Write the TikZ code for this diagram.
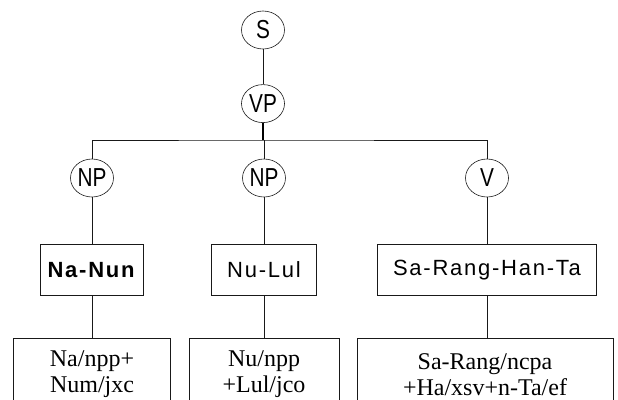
\documentclass[tikz,border=0pt]{standalone}
\usepackage{fontspec}
\usepackage{graphicx}
\setmainfont{Liberation Serif}
\setsansfont{Liberation Sans}
\newfontfamily\wordfont[LetterSpace=8]{Liberation Sans}
\usepackage{tikz}
\usetikzlibrary{
  positioning,
  shapes.geometric
}
\newcommand{\narrowtext}[1]{\scalebox{0.8}[1]{#1}}
\tikzset{
  cat/.style={
    ellipse,
    draw=black!90,
    line width=0.6pt,
    minimum width=43pt,
    minimum height=38pt,
    inner sep=0pt,
    font=\sffamily\fontsize{26}{27}\selectfont
  },
  wordbox/.style={
    rectangle,
    draw=black!90,
    line width=0.6pt,
    minimum height=51pt,
    inner sep=0pt,
    font=\wordfont\fontsize{22}{24}\selectfont
  },
  morph/.style={
    rectangle,
    draw=black!90,
    line width=0.6pt,
    minimum height=72pt,
    align=center,
    inner sep=0pt,
    font=\rmfamily\fontsize{24}{26}\selectfont
  },
  link/.style={
    line width=0.6pt,
    draw=black!90
  }
}

\begin{document}
\begin{tikzpicture}[x=1pt, y=-1pt]
  \path[use as bounding box] (0,0) rectangle (618,399);
  \clip (0,0) rectangle (618,399);
  % tree top
  \node[cat] (s) at (263,30) {\narrowtext{S}};
  \node[cat, below=35pt of s] (vp) {\narrowtext{VP}};
  \coordinate (bar) at (263,140);
  % categories
  \node[cat] (np1) at (92,178) {\narrowtext{NP}};
  \node[cat] (np2) at (264,178) {\narrowtext{NP}};
  \node[cat] (v) at (487,178) {\narrowtext{V}};
  % words
  \node[wordbox, minimum width=103pt, below=47pt of np1] (w1) {\textbf{Na-Nun}};
  \node[wordbox, minimum width=105pt, below=47pt of np2] (w2) {Nu-Lul};
  \node[wordbox, minimum width=219pt, below=47pt of v] (w3) {Sa-Rang-Han-Ta};
  % morphemes
  \node[morph, minimum width=157pt, below=42pt of w1] (m1) {Na/npp+\\Num/jxc};
  \node[morph, minimum width=150pt, below=42pt of w2] (m2) {Nu/npp\\+Lul/jco};
  \node[morph, minimum width=256pt, below=42pt of w3, xshift=-2pt] (m3) {Sa-Rang/ncpa\\+Ha/xsv+n-Ta/ef};
  \draw[link] (s) -- (vp);
  \draw[link, line width=1.1pt, draw=black] (vp) -- (bar);
  \draw[link] (np1) |- (bar) -| (v);
  \draw[link] (np2) -- (np2 |- bar);
  \draw[link] (np1) -- (w1);
  \draw[link] (np2) -- (w2);
  \draw[link] (v) -- (w3);
  \draw[link] (w1) -- (w1 |- m1.north);
  \draw[link] (w2) -- (w2 |- m2.north);
  \draw[link] (w3) -- (w3 |- m3.north);
\end{tikzpicture}
\end{document}
